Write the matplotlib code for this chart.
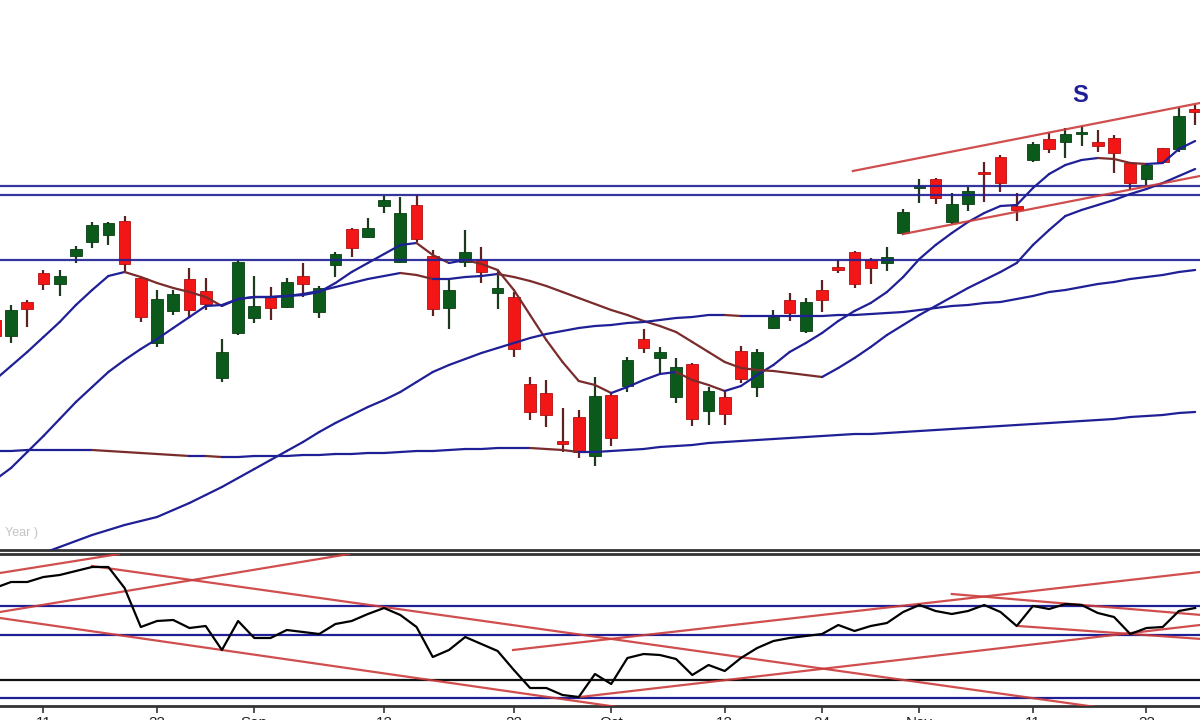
import numpy as np
import matplotlib
matplotlib.use("Agg")
import matplotlib.pyplot as plt
from matplotlib.collections import LineCollection

plt.rcParams['font.family'] = ['Liberation Sans', 'DejaVu Sans']

# daily candles, index -1 .. 73 (index -1 is cut by the left edge)
opens = [280, 264, 298, 327, 316, 344, 358, 365, 379, 322, 257, 289, 321, 309, 222, 267, 282, 304, 293, 324,
         288, 335, 371, 363, 394, 338, 395, 344, 292, 338, 340, 307, 303, 216, 207, 159, 183, 144, 205, 214,
         261, 242, 203, 236, 189, 203, 249, 213, 272, 300, 269, 310, 333, 348, 340, 337, 367, 412, 421, 378,
         396, 428, 443, 394, 440, 461, 458, 466, 458, 462, 437, 421, 452, 451, 491]
highs = [284, 295, 300, 330, 330, 354, 378, 378, 384, 323, 310, 310, 332, 322, 261, 340, 324, 313, 322, 337,
         314, 348, 372, 382, 404, 403, 405, 350, 320, 370, 353, 330, 308, 223, 220, 192, 190, 223, 208, 243,
         271, 253, 242, 237, 213, 208, 254, 251, 290, 307, 302, 320, 340, 349, 342, 353, 391, 421, 422, 407,
         413, 438, 445, 407, 458, 467, 472, 474, 470, 465, 437, 437, 452, 492, 495]
lows = [260, 257, 273, 310, 304, 337, 352, 355, 328, 278, 253, 285, 283, 290, 218, 265, 277, 280, 292, 303,
        282, 323, 343, 362, 387, 337, 358, 284, 271, 333, 317, 291, 243, 180, 173, 148, 142, 134, 154, 208,
        247, 227, 197, 174, 175, 175, 217, 203, 271, 279, 267, 288, 327, 312, 316, 329, 365, 397, 396, 376,
        389, 398, 408, 379, 438, 447, 442, 454, 448, 427, 410, 414, 437, 448, 475]
closes = [264, 290, 291, 316, 324, 351, 375, 377, 336, 283, 301, 306, 290, 296, 248, 338, 294, 292, 318, 316,
          312, 346, 352, 372, 400, 387, 361, 291, 310, 348, 328, 312, 251, 188, 185, 156, 148, 204, 162, 240,
          252, 248, 233, 181, 209, 186, 221, 248, 283, 287, 298, 300, 330, 316, 332, 343, 388, 414, 402, 396,
          409, 426, 417, 390, 456, 451, 466, 467, 454, 447, 417, 435, 438, 484, 488]

# moving averages (same index as the candles)
ma_fast = [220, 234, 248, 263, 278, 295, 310, 324, 328, 323, 317, 312, 308, 303, 294, 301, 303, 303, 304, 305,
           308, 317, 328, 337, 346, 355, 357, 345, 337, 340, 336, 330, 310, 285, 260, 238, 219, 215, 207, 213,
           220, 226, 228, 220, 215, 209, 214, 225, 235, 248, 257, 267, 279, 289, 297, 308, 323, 341, 355, 367,
           378, 387, 394, 395, 412, 426, 435, 440, 442, 441, 437, 436, 437, 451, 459]
ma_mid = [120, 132, 148, 164, 181, 198, 213, 228, 240, 251, 261, 272, 283, 294, 295, 301, 303, 303, 304, 306,
          309, 313, 317, 321, 324, 327, 325, 321, 321, 323, 324, 326, 323, 319, 314, 308, 302, 296, 290, 285,
          279, 274, 268, 258, 248, 238, 232, 230, 229, 227, 225, 223, 232, 242, 253, 265, 275, 285, 294, 303,
          312, 320, 328, 337, 355, 370, 384, 390, 395, 400, 406, 411, 417, 424, 431]
# slow average starts at index 2 (enters from the bottom)
ma_slow = [47, 53, 59, 65, 70, 75, 79, 83, 90, 97, 105, 113, 122, 131, 140, 149, 158, 168, 177, 185,
           193, 200, 208, 218, 228, 235, 241, 247, 252, 257, 262, 266, 269, 272, 274, 275, 277, 278, 280, 282,
           283, 285, 285, 284, 284, 284, 284, 284, 284, 285, 285, 286, 287, 288, 290, 292, 294, 295, 297, 298,
           301, 304, 308, 310, 313, 316, 318, 321, 323, 325, 328, 330]
ma_long = [149, 149, 150, 150, 150, 150, 150, 149, 148, 147, 146, 145, 144, 144, 143, 143, 144, 144, 144, 145,
           145, 146, 146, 147, 147, 148, 149, 149, 150, 151, 151, 152, 152, 152, 151, 150, 148, 148, 149, 150,
           151, 153, 154, 155, 157, 158, 159, 160, 161, 162, 163, 164, 165, 166, 166, 167, 168, 169, 170, 171,
           172, 173, 174, 175, 176, 177, 178, 179, 180, 181, 183, 184, 185, 187, 188]

h_levels = [414, 405, 340]
# channel lines: (start index, start price, end index, end price)
channel = [(51.9, 429, 73.3, 497), (55.0, 366, 73.3, 424)]

# lower oscillator
osc = [132, 138, 138, 143, 145, 149, 153, 153, 132, 93, 99, 100, 92, 94, 70, 99, 82, 82, 90, 88,
       86, 96, 99, 106, 112, 105, 93, 63, 70, 83, 76, 69, 50, 32, 32, 25, 23, 46, 36, 62,
       66, 65, 61, 45, 55, 49, 62, 72, 79, 82, 84, 86, 95, 89, 94, 97, 108, 115, 109, 106,
       109, 115, 108, 94, 114, 111, 116, 115, 107, 103, 86, 92, 93, 109, 112]
osc_blue = [114.5, 85.5, 22]
osc_black = [40]
osc_trend = [(-0.68, 147, 6.66, 166), (-0.68, 108, 20.84, 166), (4.99, 154, 68.2, 10),
             (-0.68, 102, 38.66, 10), (30.95, 70, 73.3, 148), (35.08, 23, 73.3, 95),
             (58.0, 126, 73.4, 105), (62.1, 94, 73.4, 81)]

tick_idx = [2, 9, 15, 23, 31, 37, 44, 50, 56, 63, 70]
tick_lbl = ['11', '22', 'Sep', '12', '22', 'Oct', '12', '24', 'Nov', '11', '22']

for arr in (opens, highs, lows, closes, ma_fast, ma_mid, ma_long, osc):
    assert len(arr) == 75, len(arr)
assert len(ma_slow) == 72

NAVY = '#1f1f96'
BROWN = '#7a2b2b'
GREEN = '#0b5a1c'
RED = '#f21616'
TREND = '#cc3b3b'

idx = np.arange(-1, 74)
XL = (-0.68, 73.3)


def draw_ma(ax, x, y):
    x = np.asarray(x, float)
    y = np.asarray(y, float)
    pts = np.column_stack([x, y])
    segs = np.stack([pts[:-1], pts[1:]], axis=1)
    cols = [BROWN if y[k + 1] < y[k] else NAVY for k in range(len(y) - 1)]
    ax.add_collection(LineCollection(segs, colors=cols, linewidths=1.6, zorder=4,
                                     capstyle='round', joinstyle='round'))


fig = plt.figure(figsize=(12, 7.2), dpi=100)
ax = fig.add_axes([0, 170 / 720, 1, 550 / 720])
ax2 = fig.add_axes([0, 14 / 720, 1, 152 / 720])

# candles
o = np.array(opens)
c = np.array(closes)
up = c >= o
body_lo = np.minimum(o, c)
body_h = np.maximum(np.abs(c - o), 2)
wick_col = np.where(up, '#1e3a1e', '#5c2222')
ax.vlines(idx, lows, highs, colors=wick_col, linewidth=1.6, zorder=2)
ax.bar(idx, body_h, bottom=body_lo, width=0.72,
       color=np.where(up, GREEN, RED), edgecolor=np.where(up, '#0a3d12', '#b01010'),
       linewidth=0.6, zorder=3)

draw_ma(ax, idx, ma_fast)
draw_ma(ax, idx, ma_mid)
draw_ma(ax, idx[3:], ma_slow)
draw_ma(ax, idx, ma_long)

for lv in h_levels:
    ax.axhline(lv, color=NAVY, lw=1.6, alpha=0.9, zorder=5)
for x0, y0, x1, y1 in channel:
    ax.plot([x0, x1], [y0, y1], color=TREND, lw=1.6, alpha=0.9, zorder=5)

ax.text(65.9, 504, 'S', color='#1f1f96', fontsize=17, fontweight='bold',
        ha='center', va='center', family=['Liberation Sans', 'DejaVu Sans'])
ax.text(-0.37, 67, 'Year )', color='#c4c4c4', fontsize=9, va='center')

ax.set_xlim(*XL)
ax.set_ylim(50, 600)
ax.set_xticks([])
ax.set_yticks([])
for s in ('top', 'left', 'right'):
    ax.spines[s].set_visible(False)
ax.spines['bottom'].set_color('#333333')
ax.spines['bottom'].set_linewidth(2)

# lower panel
for lv in osc_blue:
    ax2.axhline(lv, color=NAVY, lw=1.6, zorder=2)
for lv in osc_black:
    ax2.axhline(lv, color='#111111', lw=1.6, zorder=2)
for x0, y0, x1, y1 in osc_trend:
    ax2.plot([x0, x1], [y0, y1], color=TREND, lw=1.6, alpha=0.9, zorder=3)
ax2.plot(idx, osc, color='black', lw=1.6, zorder=4)

ax2.set_xlim(*XL)
ax2.set_ylim(14, 166)
ax2.set_yticks([])
ax2.set_xticks(tick_idx)
ax2.set_xticklabels(tick_lbl, fontsize=11, color='#222222')
ax2.tick_params(axis='x', direction='out', length=5, width=1.2, color='#333333', pad=2)
for s in ('left', 'right'):
    ax2.spines[s].set_visible(False)
for s in ('top', 'bottom'):
    ax2.spines[s].set_color('#333333')
    ax2.spines[s].set_linewidth(2)

fig.savefig('out.png', dpi=100)
